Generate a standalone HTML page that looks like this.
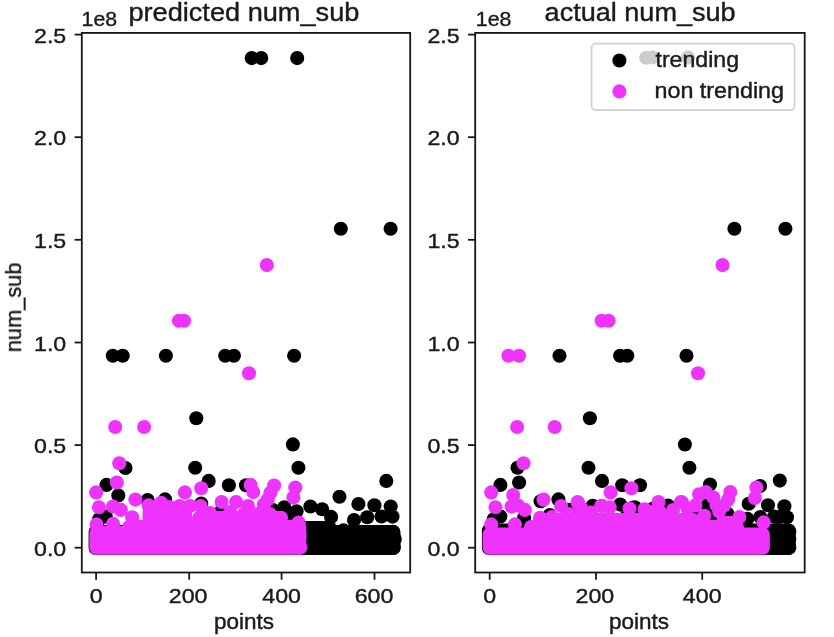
<!DOCTYPE html>
<html><head><meta charset="utf-8"><title>num_sub scatter</title>
<style>
html,body{margin:0;padding:0;background:#fff;}
body{width:834px;height:637px;overflow:hidden;font-family:"Liberation Sans",sans-serif;}
svg{display:block;}
text{font-family:"Liberation Sans",sans-serif;fill:#1a1a1a;stroke:#1a1a1a;stroke-width:0.4px;}
.t{font-size:21px;}
.l{font-size:21.2px;}
.h{font-size:25.2px;}
</style></head><body>
<svg width="834" height="637" viewBox="0 0 834 637">
<rect x="0" y="0" width="834" height="637" fill="#fff"/>
<g style="filter:blur(0.55px)">
<!-- left plot data -->
<g>
<rect x="88.6" y="525" width="311.9" height="30.1" rx="7" ry="7" fill="#000000"/>
<rect x="290" y="521" width="46" height="9" rx="7" ry="7" fill="#000000"/>
<circle cx="251.7" cy="58.1" r="7.05" fill="#000000"/>
<circle cx="261.2" cy="58.1" r="7.05" fill="#000000"/>
<circle cx="297.2" cy="58.1" r="7.05" fill="#000000"/>
<circle cx="340.8" cy="228.7" r="7.05" fill="#000000"/>
<circle cx="390.6" cy="228.7" r="7.05" fill="#000000"/>
<circle cx="112.8" cy="355.75" r="7.05" fill="#000000"/>
<circle cx="122.7" cy="355.75" r="7.05" fill="#000000"/>
<circle cx="165.9" cy="355.75" r="7.05" fill="#000000"/>
<circle cx="225.2" cy="355.75" r="7.05" fill="#000000"/>
<circle cx="233.9" cy="355.75" r="7.05" fill="#000000"/>
<circle cx="294.1" cy="355.75" r="7.05" fill="#000000"/>
<circle cx="196.3" cy="418.3" r="7.05" fill="#000000"/>
<circle cx="292.9" cy="444.4" r="7.05" fill="#000000"/>
<circle cx="125.5" cy="468" r="7.05" fill="#000000"/>
<circle cx="195.2" cy="467.7" r="7.05" fill="#000000"/>
<circle cx="298.4" cy="467.7" r="7.05" fill="#000000"/>
<circle cx="106.4" cy="484.9" r="7.05" fill="#000000"/>
<circle cx="118.3" cy="495.4" r="7.05" fill="#000000"/>
<circle cx="147.6" cy="500" r="7.05" fill="#000000"/>
<circle cx="165.1" cy="499.4" r="7.05" fill="#000000"/>
<circle cx="208.7" cy="480.9" r="7.05" fill="#000000"/>
<circle cx="228.9" cy="485.3" r="7.05" fill="#000000"/>
<circle cx="246" cy="485.3" r="7.05" fill="#000000"/>
<circle cx="201.2" cy="503.5" r="7.05" fill="#000000"/>
<circle cx="220.6" cy="511.9" r="7.05" fill="#000000"/>
<circle cx="284.3" cy="507.3" r="7.05" fill="#000000"/>
<circle cx="273" cy="510" r="7.05" fill="#000000"/>
<circle cx="99.2" cy="519.2" r="7.05" fill="#000000"/>
<circle cx="105.7" cy="516.5" r="7.05" fill="#000000"/>
<circle cx="386.3" cy="480.9" r="7.05" fill="#000000"/>
<circle cx="339.5" cy="496.8" r="7.05" fill="#000000"/>
<circle cx="358.4" cy="504" r="7.05" fill="#000000"/>
<circle cx="374.4" cy="505.2" r="7.05" fill="#000000"/>
<circle cx="390.7" cy="506.5" r="7.05" fill="#000000"/>
<circle cx="310.4" cy="506.5" r="7.05" fill="#000000"/>
<circle cx="322.1" cy="509.3" r="7.05" fill="#000000"/>
<circle cx="331.1" cy="516.9" r="7.05" fill="#000000"/>
<circle cx="354" cy="520" r="7.05" fill="#000000"/>
<circle cx="367.2" cy="517.2" r="7.05" fill="#000000"/>
<circle cx="381.5" cy="516.5" r="7.05" fill="#000000"/>
<circle cx="392.5" cy="516.6" r="7.05" fill="#000000"/>
<circle cx="296.6" cy="511.2" r="7.05" fill="#000000"/>
<circle cx="290.5" cy="518.5" r="7.05" fill="#000000"/>
<circle cx="343.5" cy="530.3" r="7.05" fill="#000000"/>
<circle cx="392.4" cy="531.7" r="7.05" fill="#000000"/>
<circle cx="394.8" cy="538.9" r="7.05" fill="#000000"/>
<circle cx="393.8" cy="547.6" r="7.05" fill="#000000"/>
<rect x="89.3" y="526" width="217.0" height="28.8" rx="7" ry="7" fill="#ee33ff"/>
<rect x="122" y="520" width="184.3" height="20" rx="7" ry="7" fill="#ee33ff"/>
<rect x="142.5" y="504" width="49.5" height="22" rx="7" ry="7" fill="#ee33ff"/>
<rect x="192" y="511" width="94" height="15" rx="7" ry="7" fill="#ee33ff"/>
<circle cx="266.8" cy="265.1" r="7.05" fill="#ee33ff"/>
<circle cx="178.9" cy="320.7" r="7.05" fill="#ee33ff"/>
<circle cx="184.1" cy="320.7" r="7.05" fill="#ee33ff"/>
<circle cx="249" cy="373.2" r="7.05" fill="#ee33ff"/>
<circle cx="115.2" cy="427.0" r="7.05" fill="#ee33ff"/>
<circle cx="144.1" cy="427.0" r="7.05" fill="#ee33ff"/>
<circle cx="119.3" cy="463.2" r="7.05" fill="#ee33ff"/>
<circle cx="116.8" cy="482.5" r="7.05" fill="#ee33ff"/>
<circle cx="96.1" cy="492.4" r="7.05" fill="#ee33ff"/>
<circle cx="135.4" cy="499.6" r="7.05" fill="#ee33ff"/>
<circle cx="184.9" cy="492.4" r="7.05" fill="#ee33ff"/>
<circle cx="98.9" cy="507.3" r="7.05" fill="#ee33ff"/>
<circle cx="113" cy="506.6" r="7.05" fill="#ee33ff"/>
<circle cx="120.9" cy="509.9" r="7.05" fill="#ee33ff"/>
<circle cx="148.6" cy="505.3" r="7.05" fill="#ee33ff"/>
<circle cx="161.2" cy="502.7" r="7.05" fill="#ee33ff"/>
<circle cx="179.6" cy="506" r="7.05" fill="#ee33ff"/>
<circle cx="132.1" cy="517.2" r="7.05" fill="#ee33ff"/>
<circle cx="96.5" cy="524.4" r="7.05" fill="#ee33ff"/>
<circle cx="113" cy="523.8" r="7.05" fill="#ee33ff"/>
<circle cx="250.6" cy="484.9" r="7.05" fill="#ee33ff"/>
<circle cx="253.3" cy="492.1" r="7.05" fill="#ee33ff"/>
<circle cx="201.2" cy="488.2" r="7.05" fill="#ee33ff"/>
<circle cx="274.1" cy="485.5" r="7.05" fill="#ee33ff"/>
<circle cx="270.4" cy="492.8" r="7.05" fill="#ee33ff"/>
<circle cx="267.8" cy="499.4" r="7.05" fill="#ee33ff"/>
<circle cx="263.8" cy="504.6" r="7.05" fill="#ee33ff"/>
<circle cx="295.3" cy="487.5" r="7.05" fill="#ee33ff"/>
<circle cx="293.4" cy="497.6" r="7.05" fill="#ee33ff"/>
<circle cx="221.6" cy="502" r="7.05" fill="#ee33ff"/>
<circle cx="236.1" cy="502" r="7.05" fill="#ee33ff"/>
<circle cx="200.5" cy="506" r="7.05" fill="#ee33ff"/>
<circle cx="248" cy="506" r="7.05" fill="#ee33ff"/>
<circle cx="281" cy="517.8" r="7.05" fill="#ee33ff"/>
<circle cx="298.6" cy="522.5" r="7.05" fill="#ee33ff"/>
<circle cx="299.6" cy="536" r="7.05" fill="#ee33ff"/>
<circle cx="300.3" cy="547.6" r="7.05" fill="#ee33ff"/>
<circle cx="155" cy="507" r="7.05" fill="#ee33ff"/>
<circle cx="170" cy="507" r="7.05" fill="#ee33ff"/>
<circle cx="190" cy="506" r="7.05" fill="#ee33ff"/>
<circle cx="210" cy="513" r="7.05" fill="#ee33ff"/>
<circle cx="230" cy="512" r="7.05" fill="#ee33ff"/>
<circle cx="244" cy="514" r="7.05" fill="#ee33ff"/>
<circle cx="258" cy="514" r="7.05" fill="#ee33ff"/>
<circle cx="270" cy="514" r="7.05" fill="#ee33ff"/>
</g>
<!-- right plot data -->
<g>
<circle cx="646.2" cy="57.8" r="7.05" fill="#000000"/>
<circle cx="652.3" cy="57.4" r="7.05" fill="#000000"/>
<circle cx="688.1" cy="57.4" r="7.05" fill="#000000"/>
<rect x="481.9" y="523.5" width="313.9" height="31.6" rx="7" ry="7" fill="#000000"/>
<circle cx="734.4" cy="228.7" r="7.05" fill="#000000"/>
<circle cx="785.4" cy="228.7" r="7.05" fill="#000000"/>
<circle cx="559.5" cy="355.75" r="7.05" fill="#000000"/>
<circle cx="620.1" cy="355.75" r="7.05" fill="#000000"/>
<circle cx="627.3" cy="355.75" r="7.05" fill="#000000"/>
<circle cx="686.5" cy="355.75" r="7.05" fill="#000000"/>
<circle cx="589.9" cy="418.3" r="7.05" fill="#000000"/>
<circle cx="684.9" cy="444.5" r="7.05" fill="#000000"/>
<circle cx="517.5" cy="467.7" r="7.05" fill="#000000"/>
<circle cx="500.4" cy="484.9" r="7.05" fill="#000000"/>
<circle cx="519.1" cy="482.5" r="7.05" fill="#000000"/>
<circle cx="540.6" cy="501.3" r="7.05" fill="#000000"/>
<circle cx="558.4" cy="499.4" r="7.05" fill="#000000"/>
<circle cx="588.5" cy="467.7" r="7.05" fill="#000000"/>
<circle cx="602" cy="480.9" r="7.05" fill="#000000"/>
<circle cx="622.2" cy="485.3" r="7.05" fill="#000000"/>
<circle cx="640" cy="485.3" r="7.05" fill="#000000"/>
<circle cx="689.4" cy="467.7" r="7.05" fill="#000000"/>
<circle cx="620.2" cy="504.6" r="7.05" fill="#000000"/>
<circle cx="634.7" cy="507.3" r="7.05" fill="#000000"/>
<circle cx="593.8" cy="506.6" r="7.05" fill="#000000"/>
<circle cx="626.8" cy="515.9" r="7.05" fill="#000000"/>
<circle cx="493.8" cy="519.2" r="7.05" fill="#000000"/>
<circle cx="500.4" cy="516.5" r="7.05" fill="#000000"/>
<circle cx="524.1" cy="517.8" r="7.05" fill="#000000"/>
<circle cx="710" cy="484.6" r="7.05" fill="#000000"/>
<circle cx="779.8" cy="480.6" r="7.05" fill="#000000"/>
<circle cx="760.1" cy="486.1" r="7.05" fill="#000000"/>
<circle cx="748.7" cy="503.8" r="7.05" fill="#000000"/>
<circle cx="768" cy="505.3" r="7.05" fill="#000000"/>
<circle cx="784.4" cy="506.3" r="7.05" fill="#000000"/>
<circle cx="778.6" cy="517.3" r="7.05" fill="#000000"/>
<circle cx="787" cy="517.3" r="7.05" fill="#000000"/>
<circle cx="760.3" cy="517" r="7.05" fill="#000000"/>
<circle cx="774.2" cy="516.6" r="7.05" fill="#000000"/>
<circle cx="747.4" cy="518.8" r="7.05" fill="#000000"/>
<circle cx="707.3" cy="505.6" r="7.05" fill="#000000"/>
<circle cx="711.7" cy="509.9" r="7.05" fill="#000000"/>
<circle cx="727.4" cy="513.7" r="7.05" fill="#000000"/>
<circle cx="694.3" cy="515.2" r="7.05" fill="#000000"/>
<circle cx="711.6" cy="518.8" r="7.05" fill="#000000"/>
<circle cx="789.3" cy="531.7" r="7.05" fill="#000000"/>
<circle cx="789.3" cy="538.9" r="7.05" fill="#000000"/>
<circle cx="789.3" cy="547.6" r="7.05" fill="#000000"/>
<circle cx="708" cy="512" r="7.05" fill="#000000"/>
<circle cx="711.5" cy="517" r="7.05" fill="#000000"/>
<circle cx="549.8" cy="515" r="7.05" fill="#000000"/>
<circle cx="569.6" cy="509.7" r="7.05" fill="#000000"/>
<circle cx="592.7" cy="505.7" r="7.05" fill="#000000"/>
<circle cx="632.9" cy="507.7" r="7.05" fill="#000000"/>
<circle cx="668" cy="505.5" r="7.05" fill="#000000"/>
<circle cx="653.2" cy="508.6" r="7.05" fill="#000000"/>
<rect x="482.6" y="527.5" width="287.3" height="27.3" rx="7" ry="7" fill="#ee33ff"/>
<rect x="524" y="520" width="220" height="20" rx="7" ry="7" fill="#ee33ff"/>
<rect x="533" y="513" width="167" height="13" rx="7" ry="7" fill="#ee33ff"/>
<rect x="716" y="516" width="26" height="10" rx="7" ry="7" fill="#ee33ff"/>
<circle cx="722.5" cy="265.1" r="7.05" fill="#ee33ff"/>
<circle cx="601.6" cy="320.7" r="7.05" fill="#ee33ff"/>
<circle cx="608.6" cy="320.7" r="7.05" fill="#ee33ff"/>
<circle cx="508.4" cy="355.75" r="7.05" fill="#ee33ff"/>
<circle cx="519.1" cy="355.75" r="7.05" fill="#ee33ff"/>
<circle cx="698" cy="373.2" r="7.05" fill="#ee33ff"/>
<circle cx="517.1" cy="427.0" r="7.05" fill="#ee33ff"/>
<circle cx="554.7" cy="427.0" r="7.05" fill="#ee33ff"/>
<circle cx="523.5" cy="463.2" r="7.05" fill="#ee33ff"/>
<circle cx="491.2" cy="492.4" r="7.05" fill="#ee33ff"/>
<circle cx="513.2" cy="495.1" r="7.05" fill="#ee33ff"/>
<circle cx="495.5" cy="507.3" r="7.05" fill="#ee33ff"/>
<circle cx="511.6" cy="506.6" r="7.05" fill="#ee33ff"/>
<circle cx="524.8" cy="509.9" r="7.05" fill="#ee33ff"/>
<circle cx="543.5" cy="499.6" r="7.05" fill="#ee33ff"/>
<circle cx="561.1" cy="506" r="7.05" fill="#ee33ff"/>
<circle cx="577.6" cy="502" r="7.05" fill="#ee33ff"/>
<circle cx="491.2" cy="524.4" r="7.05" fill="#ee33ff"/>
<circle cx="514.9" cy="524.4" r="7.05" fill="#ee33ff"/>
<circle cx="540" cy="517.8" r="7.05" fill="#ee33ff"/>
<circle cx="631.4" cy="488.2" r="7.05" fill="#ee33ff"/>
<circle cx="610.6" cy="492.4" r="7.05" fill="#ee33ff"/>
<circle cx="658.5" cy="502" r="7.05" fill="#ee33ff"/>
<circle cx="680.9" cy="502" r="7.05" fill="#ee33ff"/>
<circle cx="629.5" cy="508.6" r="7.05" fill="#ee33ff"/>
<circle cx="644.6" cy="509.3" r="7.05" fill="#ee33ff"/>
<circle cx="602.4" cy="506" r="7.05" fill="#ee33ff"/>
<circle cx="609.7" cy="507.3" r="7.05" fill="#ee33ff"/>
<circle cx="578" cy="503.3" r="7.05" fill="#ee33ff"/>
<circle cx="591.2" cy="512.6" r="7.05" fill="#ee33ff"/>
<circle cx="673" cy="510" r="7.05" fill="#ee33ff"/>
<circle cx="687.5" cy="508.6" r="7.05" fill="#ee33ff"/>
<circle cx="705.8" cy="492" r="7.05" fill="#ee33ff"/>
<circle cx="699.1" cy="494.3" r="7.05" fill="#ee33ff"/>
<circle cx="713.2" cy="497.2" r="7.05" fill="#ee33ff"/>
<circle cx="730.3" cy="492" r="7.05" fill="#ee33ff"/>
<circle cx="728.1" cy="499.5" r="7.05" fill="#ee33ff"/>
<circle cx="756.3" cy="487.6" r="7.05" fill="#ee33ff"/>
<circle cx="754.9" cy="498" r="7.05" fill="#ee33ff"/>
<circle cx="763.6" cy="522.4" r="7.05" fill="#ee33ff"/>
<circle cx="739.4" cy="517" r="7.05" fill="#ee33ff"/>
<circle cx="719.2" cy="511.4" r="7.05" fill="#ee33ff"/>
<circle cx="704.3" cy="515.8" r="7.05" fill="#ee33ff"/>
<circle cx="682" cy="502.4" r="7.05" fill="#ee33ff"/>
<circle cx="695.4" cy="505.4" r="7.05" fill="#ee33ff"/>
<circle cx="518" cy="505.5" r="7.05" fill="#ee33ff"/>
<circle cx="581.5" cy="508.4" r="7.05" fill="#ee33ff"/>
<circle cx="601.2" cy="505.7" r="7.05" fill="#ee33ff"/>
<circle cx="569" cy="514" r="7.05" fill="#ee33ff"/>
<circle cx="552" cy="517" r="7.05" fill="#ee33ff"/>
<circle cx="652" cy="512" r="7.05" fill="#ee33ff"/>
<circle cx="724" cy="505.5" r="7.05" fill="#ee33ff"/>
<circle cx="716.5" cy="505" r="7.05" fill="#ee33ff"/>
<circle cx="660" cy="512" r="7.05" fill="#ee33ff"/>
</g>
<!-- axes -->
<rect x="81.8" y="32.9" width="328.4" height="539.6" fill="none" stroke="#161616" stroke-width="1.8"/>
<line x1="74.6" y1="547.7" x2="81.8" y2="547.7" stroke="#161616" stroke-width="1.8"/>
<text class="t" x="66.2" y="555.7" text-anchor="end" textLength="32.2" lengthAdjust="spacingAndGlyphs">0.0</text>
<line x1="74.6" y1="445.1" x2="81.8" y2="445.1" stroke="#161616" stroke-width="1.8"/>
<text class="t" x="66.2" y="453.1" text-anchor="end" textLength="32.2" lengthAdjust="spacingAndGlyphs">0.5</text>
<line x1="74.6" y1="342.5" x2="81.8" y2="342.5" stroke="#161616" stroke-width="1.8"/>
<text class="t" x="66.2" y="350.5" text-anchor="end" textLength="32.2" lengthAdjust="spacingAndGlyphs">1.0</text>
<line x1="74.6" y1="239.8" x2="81.8" y2="239.8" stroke="#161616" stroke-width="1.8"/>
<text class="t" x="66.2" y="247.8" text-anchor="end" textLength="32.2" lengthAdjust="spacingAndGlyphs">1.5</text>
<line x1="74.6" y1="137.2" x2="81.8" y2="137.2" stroke="#161616" stroke-width="1.8"/>
<text class="t" x="66.2" y="145.2" text-anchor="end" textLength="32.2" lengthAdjust="spacingAndGlyphs">2.0</text>
<line x1="74.6" y1="34.6" x2="81.8" y2="34.6" stroke="#161616" stroke-width="1.8"/>
<text class="t" x="66.2" y="42.6" text-anchor="end" textLength="32.2" lengthAdjust="spacingAndGlyphs">2.5</text>
<line x1="96.1" y1="572.5" x2="96.1" y2="579.7" stroke="#161616" stroke-width="1.8"/>
<text class="t" x="96.1" y="602.6" text-anchor="middle" textLength="12.9" lengthAdjust="spacingAndGlyphs">0</text>
<line x1="189.2" y1="572.5" x2="189.2" y2="579.7" stroke="#161616" stroke-width="1.8"/>
<text class="t" x="188.1" y="602.6" text-anchor="middle" textLength="38.7" lengthAdjust="spacingAndGlyphs">200</text>
<line x1="281.6" y1="572.5" x2="281.6" y2="579.7" stroke="#161616" stroke-width="1.8"/>
<text class="t" x="281.6" y="602.6" text-anchor="middle" textLength="38.7" lengthAdjust="spacingAndGlyphs">400</text>
<line x1="374.5" y1="572.5" x2="374.5" y2="579.7" stroke="#161616" stroke-width="1.8"/>
<text class="t" x="374.0" y="602.6" text-anchor="middle" textLength="38.7" lengthAdjust="spacingAndGlyphs">600</text>

<rect x="475.2" y="32.9" width="329.5" height="539.6" fill="none" stroke="#161616" stroke-width="1.8"/>
<line x1="468.0" y1="547.7" x2="475.2" y2="547.7" stroke="#161616" stroke-width="1.8"/>
<text class="t" x="459.6" y="555.7" text-anchor="end" textLength="32.2" lengthAdjust="spacingAndGlyphs">0.0</text>
<line x1="468.0" y1="445.1" x2="475.2" y2="445.1" stroke="#161616" stroke-width="1.8"/>
<text class="t" x="459.6" y="453.1" text-anchor="end" textLength="32.2" lengthAdjust="spacingAndGlyphs">0.5</text>
<line x1="468.0" y1="342.5" x2="475.2" y2="342.5" stroke="#161616" stroke-width="1.8"/>
<text class="t" x="459.6" y="350.5" text-anchor="end" textLength="32.2" lengthAdjust="spacingAndGlyphs">1.0</text>
<line x1="468.0" y1="239.8" x2="475.2" y2="239.8" stroke="#161616" stroke-width="1.8"/>
<text class="t" x="459.6" y="247.8" text-anchor="end" textLength="32.2" lengthAdjust="spacingAndGlyphs">1.5</text>
<line x1="468.0" y1="137.2" x2="475.2" y2="137.2" stroke="#161616" stroke-width="1.8"/>
<text class="t" x="459.6" y="145.2" text-anchor="end" textLength="32.2" lengthAdjust="spacingAndGlyphs">2.0</text>
<line x1="468.0" y1="34.6" x2="475.2" y2="34.6" stroke="#161616" stroke-width="1.8"/>
<text class="t" x="459.6" y="42.6" text-anchor="end" textLength="32.2" lengthAdjust="spacingAndGlyphs">2.5</text>
<line x1="489.7" y1="572.5" x2="489.7" y2="579.7" stroke="#161616" stroke-width="1.8"/>
<text class="t" x="489.7" y="602.6" text-anchor="middle" textLength="12.9" lengthAdjust="spacingAndGlyphs">0</text>
<line x1="596.0" y1="572.5" x2="596.0" y2="579.7" stroke="#161616" stroke-width="1.8"/>
<text class="t" x="594.9" y="602.6" text-anchor="middle" textLength="38.7" lengthAdjust="spacingAndGlyphs">200</text>
<line x1="702.2" y1="572.5" x2="702.2" y2="579.7" stroke="#161616" stroke-width="1.8"/>
<text class="t" x="702.2" y="602.6" text-anchor="middle" textLength="38.7" lengthAdjust="spacingAndGlyphs">400</text>

<!-- titles / labels -->
<text class="h" x="243.9" y="20.8" text-anchor="middle" textLength="231" lengthAdjust="spacingAndGlyphs">predicted num_sub</text>
<text class="h" x="640.1" y="20.6" text-anchor="middle" textLength="191" lengthAdjust="spacingAndGlyphs">actual num_sub</text>
<text class="t" x="81.6" y="26" textLength="35.5" lengthAdjust="spacingAndGlyphs">1e8</text>
<text class="t" x="475.8" y="26" textLength="35.5" lengthAdjust="spacingAndGlyphs">1e8</text>
<text class="l" x="244" y="629.4" text-anchor="middle" textLength="60" lengthAdjust="spacingAndGlyphs">points</text>
<text class="l" x="639" y="629.4" text-anchor="middle" textLength="60" lengthAdjust="spacingAndGlyphs">points</text>
<text class="l" transform="translate(21,307.4) rotate(-90)" text-anchor="middle" textLength="89.5" lengthAdjust="spacingAndGlyphs">num_sub</text>
<!-- legend -->
<rect x="591.6" y="43.7" width="203" height="66.5" rx="4" ry="4" fill="#fff" fill-opacity="0.8" stroke="#d0d0d0" stroke-width="1.7"/>
<circle cx="619.4" cy="60.5" r="7.05" fill="#000000"/>
<circle cx="619.4" cy="91.4" r="7.05" fill="#ee33ff"/>
<text class="l" x="655.5" y="66.8" textLength="83.5" lengthAdjust="spacingAndGlyphs">trending</text>
<text class="l" x="654.5" y="97.7" textLength="129.5" lengthAdjust="spacingAndGlyphs">non trending</text>
</g>
</svg>
</body></html>
